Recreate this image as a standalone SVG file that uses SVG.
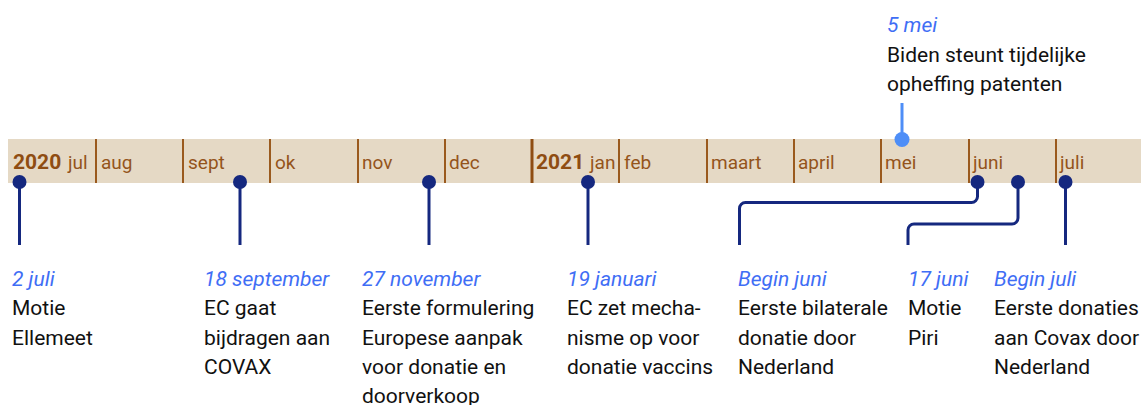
<svg xmlns="http://www.w3.org/2000/svg" width="1141" height="405" viewBox="0 0 1141 405">
<style>
.band{fill:#e5d9c5}
.div{stroke:#9a5a1e;stroke-width:2}
.divy{stroke:#8f4d12;stroke-width:3}
.mon{font-family:Roboto,"Liberation Sans",sans-serif;font-size:19px;fill:#94541b}
.yr{font-family:Roboto,"Liberation Sans",sans-serif;font-size:21px;font-weight:bold;fill:#8f4d12}
.con{fill:none;stroke:#15287f;stroke-width:3}
.dot{fill:#15287f}
.date{font-family:Roboto,"Liberation Sans",sans-serif;font-size:21px;font-style:italic;fill:#3f6ef5}
.txt{font-family:Roboto,"Liberation Sans",sans-serif;font-size:21px;fill:#111}
</style>
<g id="timeline">
<rect class="band" x="8" y="139" width="1133" height="44"/>
<g>
<line class="div" x1="96" y1="139" x2="96" y2="183"/>
<line class="div" x1="183" y1="139" x2="183" y2="183"/>
<line class="div" x1="270" y1="139" x2="270" y2="183"/>
<line class="div" x1="358" y1="139" x2="358" y2="183"/>
<line class="div" x1="445" y1="139" x2="445" y2="183"/>
<line class="divy" x1="532" y1="139" x2="532" y2="183"/>
<line class="div" x1="619" y1="139" x2="619" y2="183"/>
<line class="div" x1="707" y1="139" x2="707" y2="183"/>
<line class="div" x1="794" y1="139" x2="794" y2="183"/>
<line class="div" x1="881" y1="139" x2="881" y2="183"/>
<line class="div" x1="969" y1="139" x2="969" y2="183"/>
<line class="div" x1="1056" y1="139" x2="1056" y2="183"/>
</g>
<text class="yr" x="13" y="169">2020</text>
<text class="mon" x="68" y="169">jul</text>
<text class="mon" x="101" y="169">aug</text>
<text class="mon" x="188" y="169">sept</text>
<text class="mon" x="275" y="169">ok</text>
<text class="mon" x="362" y="169">nov</text>
<text class="mon" x="449" y="169">dec</text>
<text class="yr" x="536" y="169">2021</text>
<text class="mon" x="590" y="169">jan</text>
<text class="mon" x="624" y="169">feb</text>
<text class="mon" x="711" y="169">maart</text>
<text class="mon" x="798" y="169">april</text>
<text class="mon" x="885" y="169">mei</text>
<text class="mon" x="973" y="169">juni</text>
<text class="mon" x="1060" y="169">juli</text>
</g>
<g id="connectors">
<line class="con" x1="19.5" y1="182" x2="19.5" y2="245"/>
<line class="con" x1="240" y1="182" x2="240" y2="245"/>
<line class="con" x1="429" y1="182" x2="429" y2="245"/>
<line class="con" x1="588" y1="182" x2="588" y2="245"/>
<path class="con" d="M977.5 182 V196.5 A6 6 0 0 1 971.5 202.5 H745.5 A6 6 0 0 0 739.5 208.5 V245"/>
<path class="con" d="M1018 182 V218 A6 6 0 0 1 1012 224 H914 A6 6 0 0 0 908 230 V245"/>
<line class="con" x1="1065.5" y1="182" x2="1065.5" y2="245"/>
<line x1="902" y1="103" x2="902" y2="139" stroke="#4e8ef7" stroke-width="3"/>
</g>
<g id="e-2juli">
<circle class="dot" cx="19.5" cy="182" r="7"/>
<text class="date" x="12" y="286">2 juli</text>
<text class="txt" x="12" y="315.3">Motie</text>
<text class="txt" x="12" y="344.6">Ellemeet</text>
</g>
<g id="e-18sep">
<circle class="dot" cx="240" cy="182" r="7"/>
<text class="date" x="204" y="286">18 september</text>
<text class="txt" x="204" y="315.3">EC gaat</text>
<text class="txt" x="204" y="344.6">bijdragen aan</text>
<text class="txt" x="204" y="373.9">COVAX</text>
</g>
<g id="e-27nov">
<circle class="dot" cx="429" cy="182" r="7"/>
<text class="date" x="362" y="286">27 november</text>
<text class="txt" x="362" y="315.3">Eerste formulering</text>
<text class="txt" x="362" y="344.6">Europese aanpak</text>
<text class="txt" x="362" y="373.9">voor donatie en</text>
<text class="txt" x="362" y="403.2">doorverkoop</text>
</g>
<g id="e-19jan">
<circle class="dot" cx="588" cy="182" r="7"/>
<text class="date" x="567" y="286">19 januari</text>
<text class="txt" x="567" y="315.3">EC zet mecha-</text>
<text class="txt" x="567" y="344.6">nisme op voor</text>
<text class="txt" x="567" y="373.9">donatie vaccins</text>
</g>
<g id="e-5mei">
<circle cx="902" cy="139.5" r="7.5" fill="#4e8ef7"/>
<text class="date" x="887" y="32">5 mei</text>
<text class="txt" x="887" y="62">Biden steunt tijdelijke</text>
<text class="txt" x="887" y="91">opheffing patenten</text>
</g>
<g id="e-beginjuni">
<circle class="dot" cx="977.5" cy="182" r="7"/>
<text class="date" x="738" y="286">Begin juni</text>
<text class="txt" x="738" y="315.3">Eerste bilaterale</text>
<text class="txt" x="738" y="344.6">donatie door</text>
<text class="txt" x="738" y="373.9">Nederland</text>
</g>
<g id="e-17juni">
<circle class="dot" cx="1018" cy="182" r="7"/>
<text class="date" x="908" y="286">17 juni</text>
<text class="txt" x="908" y="315.3">Motie</text>
<text class="txt" x="908" y="344.6">Piri</text>
</g>
<g id="e-beginjuli">
<circle class="dot" cx="1065.5" cy="182" r="7"/>
<text class="date" x="994" y="286">Begin juli</text>
<text class="txt" x="994" y="315.3">Eerste donaties</text>
<text class="txt" x="994" y="344.6">aan Covax door</text>
<text class="txt" x="994" y="373.9">Nederland</text>
</g>
</svg>
